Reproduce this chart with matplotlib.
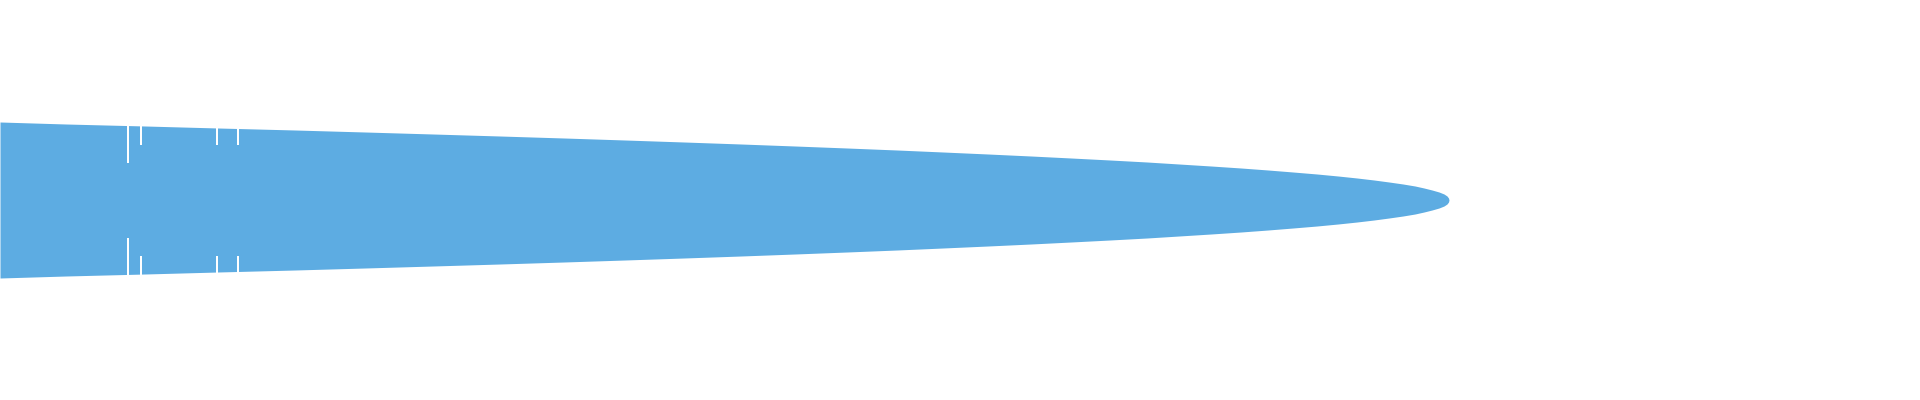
import matplotlib
matplotlib.use("Agg")
import matplotlib.pyplot as plt
import numpy as np

# profile of the shape: position along the axis and half thickness
pos = [0, 66, 145, 218, 295, 365, 433, 500, 564, 625, 684, 741, 795, 847, 897,
       943, 988, 1031, 1071, 1110, 1147, 1179, 1211, 1241, 1268, 1293, 1317,
       1338, 1357, 1374, 1389, 1403, 1415, 1424, 1432, 1439, 1444, 1447, 1448.5, 1449]
half = [78, 76, 74, 72, 70, 68, 66, 64, 62, 60, 58, 56, 54, 52, 50,
        48, 46, 44, 42, 40, 38, 36, 34, 32, 30, 28, 26,
        24, 22, 20, 18, 16, 14, 12, 10, 8, 6, 4, 2, 0]
center = 200

# thin white gaps near the wide end (position, blue depth kept around the centre)
gap_pos = [128, 141, 217, 238]
gap_inner = [37.5, 55.5, 55.5, 55.5]

fig = plt.figure(figsize=(19.2, 4), dpi=100)
ax = fig.add_axes([0, 0, 1, 1])

x = np.array(pos)
h = np.array(half)
ax.fill_between(x, center - h, center + h, color="#5dace2", linewidth=0,
                antialiased=False)

for gx, gi in zip(gap_pos, gap_inner):
    ax.vlines(gx, center - 80, center - gi, color="white", linewidth=1.2,
              antialiased=False)
    ax.vlines(gx, center + gi, center + 80, color="white", linewidth=1.2,
              antialiased=False)

ax.set_xlim(0, 1920)
ax.set_ylim(400, 0)
ax.axis("off")

fig.savefig("out.png", dpi=100, facecolor="white")
